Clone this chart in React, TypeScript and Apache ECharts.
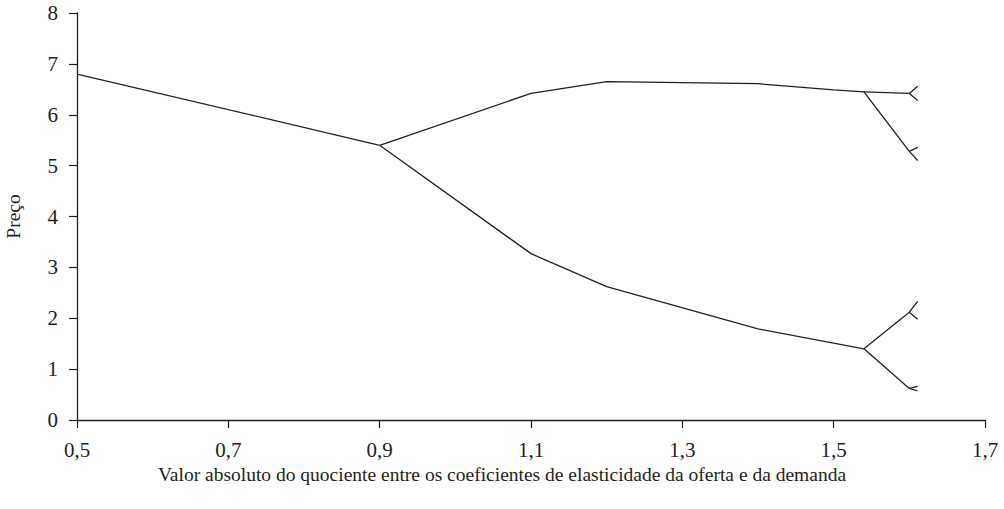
import React, { useEffect, useRef } from "react";
import * as echarts from "echarts";

// x ticks and y range
const xTicks = [0.5, 0.7, 0.9, 1.1, 1.3, 1.5, 1.7];
const xTitle = "Valor absoluto do quociente entre os coeficientes de elasticidade da oferta e da demanda";
const yTitle = "Preço";

// bifurcation branches: [x, price]
const trunk = [[0.5, 6.8], [0.9, 5.4]];
const upperBranch = [[0.9, 5.4], [1.1, 6.42], [1.2, 6.65], [1.4, 6.61], [1.5, 6.49], [1.54, 6.45]];
const lowerBranch = [[0.9, 5.4], [1.1, 3.27], [1.2, 2.62], [1.4, 1.79], [1.54, 1.4]];
const period4A = [[1.54, 6.45], [1.6, 6.42]];
const period4B = [[1.54, 6.45], [1.6, 5.28]];
const period4C = [[1.54, 1.4], [1.6, 2.12]];
const period4D = [[1.54, 1.4], [1.6, 0.62]];
const period8 = [
  [[1.6, 6.42], [1.611, 6.56]],
  [[1.6, 6.42], [1.611, 6.28]],
  [[1.6, 5.28], [1.611, 5.36]],
  [[1.6, 5.28], [1.611, 5.1]],
  [[1.6, 2.12], [1.611, 2.33]],
  [[1.6, 2.12], [1.611, 1.98]],
  [[1.6, 0.62], [1.611, 0.66]],
  [[1.6, 0.62], [1.611, 0.57]],
];

const FONT = "'Liberation Serif', 'DejaVu Serif', serif";
const INK = "#231f20";

export default function App() {
  const ref = useRef<HTMLDivElement>(null);
  useEffect(() => {
    document.body.style.margin = "0";
    const chart = echarts.init(ref.current!, null, { renderer: "svg" });
    const branches = [trunk, upperBranch, lowerBranch, period4A, period4B, period4C, period4D, ...period8];
    chart.setOption({
      animation: false,
      grid: { left: 77, right: 19, top: 13, bottom: 89, containLabel: false, outerBoundsMode: "none" },
      graphic: [
        {
          type: "text",
          x: 502,
          y: 474,
          style: {
            text: xTitle,
            fontFamily: FONT,
            fontSize: 19.5,
            fill: INK,
            textAlign: "center",
            textVerticalAlign: "middle",
          },
        },
      ],
      xAxis: {
        type: "value",
        min: 0.5,
        max: 1.7,
        axisLine: { lineStyle: { color: INK, width: 1.3 } },
        axisTick: { show: true, length: 8, customValues: xTicks, lineStyle: { color: INK, width: 1.2 } },
        axisLabel: {
          customValues: xTicks,
          margin: 19,
          fontFamily: FONT,
          fontSize: 21,
          color: INK,
          formatter: (v: number) => v.toFixed(1).replace(".", ","),
        },
        splitLine: { show: false },
      },
      yAxis: {
        type: "value",
        min: 0,
        max: 8,
        interval: 1,
        name: yTitle,
        nameLocation: "middle",
        nameGap: 54,
        nameRotate: 90,
        nameTextStyle: { fontFamily: FONT, fontSize: 19.5, color: INK },
        axisLine: { show: true, lineStyle: { color: INK, width: 1.3 } },
        axisTick: { show: true, length: 8, lineStyle: { color: INK, width: 1.2 } },
        axisLabel: { margin: 19, fontFamily: FONT, fontSize: 21, color: INK },
        splitLine: { show: false },
      },
      series: branches.map((d) => ({
        type: "line",
        data: d,
        showSymbol: false,
        symbol: "none",
        silent: true,
        lineStyle: { color: INK, width: 1.3 },
      })),
    });
    return () => chart.dispose();
  }, []);
  return <div ref={ref} style={{ width: 1004, height: 509 }} />;
}
